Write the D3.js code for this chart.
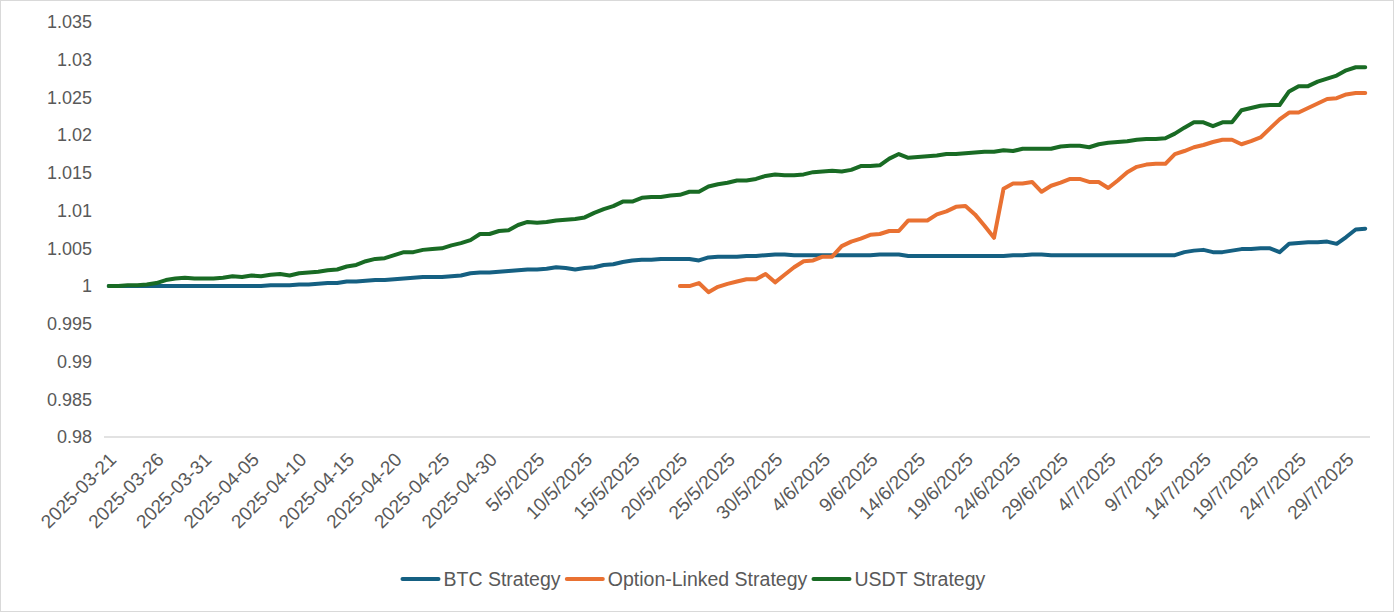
<!DOCTYPE html>
<html>
<head>
<meta charset="utf-8">
<script src="https://cdn.jsdelivr.net/npm/d3@7"></script>
<style>
  body { margin: 0; background: #fff; }
  text { font-family: "Liberation Sans", "Noto Sans", sans-serif; fill: #595959; }
</style>
</head>
<body>
<div id="vis-container"></div>
<script>
// one category per day, 2025-03-21 .. 2025-07-31
var startDay = new Date(2025, 2, 21);
var days = d3.timeDay.range(startDay, new Date(2025, 7, 1));

// tick labels, every 5th day
var tickLabels = [
  "2025-03-21", "2025-03-26", "2025-03-31", "2025-04-05", "2025-04-10",
  "2025-04-15", "2025-04-20", "2025-04-25", "2025-04-30",
  "5/5/2025", "10/5/2025", "15/5/2025", "20/5/2025", "25/5/2025", "30/5/2025",
  "4/6/2025", "9/6/2025", "14/6/2025", "19/6/2025", "24/6/2025", "29/6/2025",
  "4/7/2025", "9/7/2025", "14/7/2025", "19/7/2025", "24/7/2025", "29/7/2025"
];

var btc = [
  1.0000, 1.0000, 1.0000, 1.0000, 1.0000, 1.0000, 1.0000, 1.0000, 1.0000, 1.0000,
  1.0000, 1.0000, 1.0000, 1.0000, 1.0000, 1.0000, 1.0000, 1.0001, 1.0001, 1.0001,
  1.0002, 1.0002, 1.0003, 1.0004, 1.0004, 1.0006, 1.0006, 1.0007, 1.0008, 1.0008,
  1.0009, 1.0010, 1.0011, 1.0012, 1.0012, 1.0012, 1.0013, 1.0014, 1.0017, 1.0018,
  1.0018, 1.0019, 1.0020, 1.0021, 1.0022, 1.0022, 1.0023, 1.0025, 1.0024, 1.0022,
  1.0024, 1.0025, 1.0028, 1.0029, 1.0032, 1.0034, 1.0035, 1.0035, 1.0036, 1.0036,
  1.0036, 1.0036, 1.0034, 1.0038, 1.0039, 1.0039, 1.0039, 1.0040, 1.0040, 1.0041,
  1.0042, 1.0042, 1.0041, 1.0041, 1.0041, 1.0041, 1.0041, 1.0041, 1.0041, 1.0041,
  1.0041, 1.0042, 1.0042, 1.0042, 1.0040, 1.0040, 1.0040, 1.0040, 1.0040, 1.0040,
  1.0040, 1.0040, 1.0040, 1.0040, 1.0040, 1.0041, 1.0041, 1.0042, 1.0042, 1.0041,
  1.0041, 1.0041, 1.0041, 1.0041, 1.0041, 1.0041, 1.0041, 1.0041, 1.0041, 1.0041,
  1.0041, 1.0041, 1.0041, 1.0045, 1.0047, 1.0048, 1.0045, 1.0045, 1.0047, 1.0049,
  1.0049, 1.0050, 1.0050, 1.0045, 1.0056, 1.0057, 1.0058, 1.0058, 1.0059, 1.0056,
  1.0065, 1.0075, 1.0076
];

// starts on 20/5/2025 (day 60)
var option = [
  1.0000, 1.0000, 1.0004, 0.9992, 0.9999, 1.0003, 1.0006, 1.0009, 1.0009, 1.0016,
  1.0005, 1.0015, 1.0025, 1.0033, 1.0034, 1.0039, 1.0039, 1.0053, 1.0059, 1.0063,
  1.0068, 1.0069, 1.0073, 1.0073, 1.0087, 1.0087, 1.0087, 1.0095, 1.0099, 1.0105,
  1.0106, 1.0095, 1.0080, 1.0064, 1.0129, 1.0136, 1.0136, 1.0138, 1.0125, 1.0133,
  1.0137, 1.0142, 1.0142, 1.0138, 1.0138, 1.0130, 1.0140, 1.0151, 1.0158, 1.0161,
  1.0162, 1.0162, 1.0175, 1.0179, 1.0184, 1.0187, 1.0191, 1.0194, 1.0194, 1.0188,
  1.0192, 1.0197, 1.0209, 1.0221, 1.0230, 1.0230, 1.0236, 1.0242, 1.0248, 1.0249,
  1.0254, 1.0256, 1.0256
];
var optionStart = 60;

var usdt = [
  1.0000, 1.0000, 1.0001, 1.0001, 1.0002, 1.0004, 1.0008, 1.0010, 1.0011, 1.0010,
  1.0010, 1.0010, 1.0011, 1.0013, 1.0012, 1.0014, 1.0013, 1.0015, 1.0016, 1.0014,
  1.0017, 1.0018, 1.0019, 1.0021, 1.0022, 1.0026, 1.0028, 1.0033, 1.0036, 1.0037,
  1.0041, 1.0045, 1.0045, 1.0048, 1.0049, 1.0050, 1.0054, 1.0057, 1.0061, 1.0069,
  1.0069, 1.0073, 1.0074, 1.0081, 1.0085, 1.0084, 1.0085, 1.0087, 1.0088, 1.0089,
  1.0091, 1.0097, 1.0102, 1.0106, 1.0112, 1.0112, 1.0117, 1.0118, 1.0118, 1.0120,
  1.0121, 1.0125, 1.0125, 1.0132, 1.0135, 1.0137, 1.0140, 1.0140, 1.0142, 1.0146,
  1.0148, 1.0147, 1.0147, 1.0148, 1.0151, 1.0152, 1.0153, 1.0152, 1.0154, 1.0159,
  1.0159, 1.0160, 1.0169, 1.0175, 1.0170, 1.0171, 1.0172, 1.0173, 1.0175, 1.0175,
  1.0176, 1.0177, 1.0178, 1.0178, 1.0180, 1.0179, 1.0182, 1.0182, 1.0182, 1.0182,
  1.0185, 1.0186, 1.0186, 1.0184, 1.0188, 1.0190, 1.0191, 1.0192, 1.0194, 1.0195,
  1.0195, 1.0196, 1.0202, 1.0210, 1.0217, 1.0217, 1.0212, 1.0217, 1.0217, 1.0233,
  1.0236, 1.0239, 1.0240, 1.0240, 1.0258, 1.0265, 1.0265, 1.0271, 1.0275, 1.0279,
  1.0286, 1.0290, 1.0290
];

var seriesNames = ["BTC Strategy", "Option-Linked Strategy", "USDT Strategy"];
var colors = ["#156082", "#E97132", "#196B24"];

var yTicks = [0.98, 0.985, 0.99, 0.995, 1, 1.005, 1.01, 1.015, 1.02, 1.025, 1.03, 1.035];

var width = 1394, height = 612;

var svg = d3.select("#vis-container").append("svg")
  .attr("width", width)
  .attr("height", height);

// chart border
svg.append("rect")
  .attr("x", 0.5).attr("y", 0.5)
  .attr("width", width - 1).attr("height", height - 1)
  .attr("fill", "#fff")
  .attr("stroke", "#d9d9d9");

var x = d3.scalePoint()
  .domain(d3.range(days.length))
  .range([104, 1370])
  .padding(0.5);

var y = d3.scaleLinear()
  .domain([0.98, 1.035])
  .range([437, 22]);

// y axis labels
var yAxis = d3.axisLeft(y)
  .tickValues(yTicks)
  .tickSize(0)
  .tickPadding(0)
  .tickFormat(function (d) { return String(+d.toFixed(3)); });

var gy = svg.append("g")
  .attr("transform", "translate(92,0)")
  .call(yAxis);
gy.select(".domain").remove();
gy.selectAll("text")
  .style("font-size", "18px")
  .style("font-family", null)
  .attr("font-family", null)
  .attr("fill", "#595959");

// x axis line
svg.append("line")
  .attr("x1", 104).attr("x2", 1370)
  .attr("y1", y(0.98)).attr("y2", y(0.98))
  .attr("stroke", "#d9d9d9")
  .attr("stroke-width", 1.5);

// x labels every 5 days
var xAxis = svg.append("g");
xAxis.selectAll("text")
  .data(tickLabels)
  .enter()
  .append("text")
  .attr("transform", function (d, i) {
    return "translate(" + (x(i * 5) + 4) + "," + (y(0.98) + 19) + ") rotate(-45)";
  })
  .attr("text-anchor", "end")
  .attr("dy", "0.35em")
  .style("font-size", "19px")
  .text(function (d) { return d; });

// lines
var line = d3.line()
  .x(function (d) { return x(d[0]); })
  .y(function (d) { return y(d[1]); });

var seriesData = [
  btc.map(function (v, i) { return [i, v]; }),
  option.map(function (v, i) { return [i + optionStart, v]; }),
  usdt.map(function (v, i) { return [i, v]; })
];

svg.selectAll("path.series")
  .data(seriesData)
  .enter()
  .append("path")
  .attr("class", "series")
  .attr("fill", "none")
  .attr("stroke", function (d, i) { return colors[i]; })
  .attr("stroke-width", 4)
  .attr("stroke-linejoin", "round")
  .attr("stroke-linecap", "round")
  .attr("d", line);

// legend
var legend = svg.append("g");
var items = legend.selectAll("g")
  .data(seriesNames)
  .enter()
  .append("g");
items.append("line")
  .attr("x1", 0).attr("x2", 36)
  .attr("y1", 0).attr("y2", 0)
  .attr("stroke", function (d, i) { return colors[i]; })
  .attr("stroke-width", 4)
  .attr("stroke-linecap", "round");
items.append("text")
  .attr("x", 41)
  .attr("dy", "0.35em")
  .style("font-size", "19.5px")
  .text(function (d) { return d; });

var offsets = [];
var total = 0;
items.each(function () {
  offsets.push(total);
  total += this.getBBox().width + 6;
});
var lx = (width - total) / 2;
items.attr("transform", function (d, i) {
  return "translate(" + (lx + offsets[i]) + ",579)";
});
</script>
</body>
</html>
